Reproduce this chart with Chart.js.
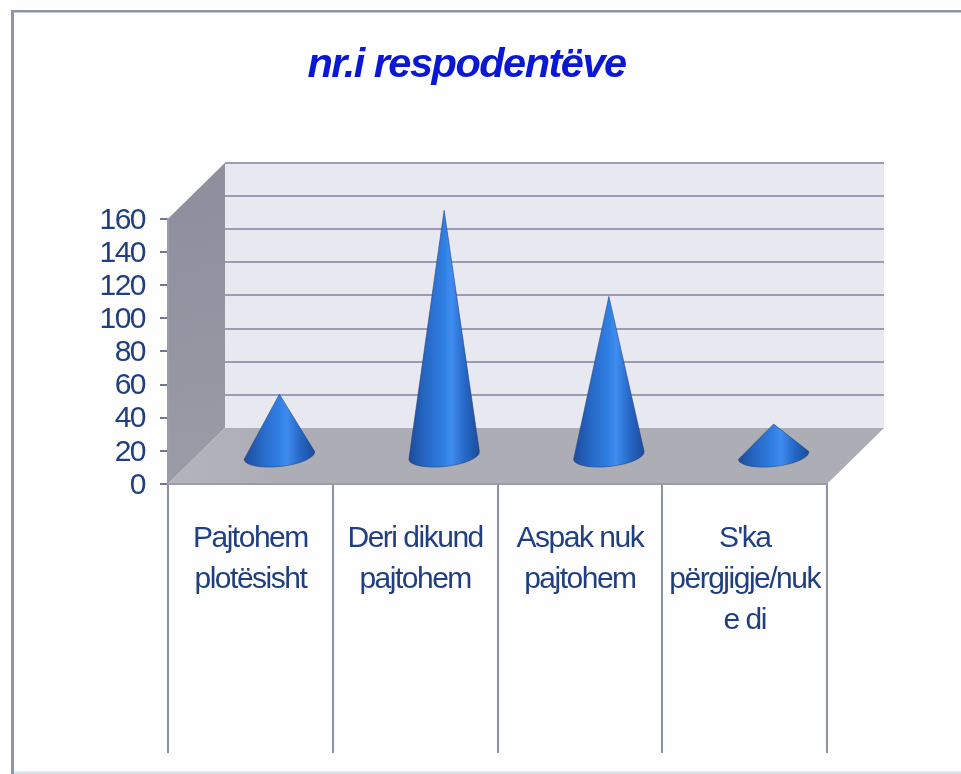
<!DOCTYPE html>
<html lang="sq">
<head>
<meta charset="utf-8">
<title>nr.i respodentëve</title>
<script src="https://cdn.jsdelivr.net/npm/chart.js@4/dist/chart.umd.js"></script>
<style>
html,body{margin:0;padding:0;background:#fff;overflow:hidden}
canvas{display:block}
</style>
</head>
<body>
<canvas id="c" width="961" height="774"></canvas>
<script>
const chartTitle = 'nr.i respodentëve';
const categories = [['Pajtohem','plotësisht'],['Deri dikund','pajtohem'],['Aspak nuk','pajtohem'],["S'ka",'përgjigje/nuk','e di']];
const respondents = [37, 148, 96, 19];
const yMin = 0, yMax = 160, yStep = 20;

const sans = '"Liberation Sans",Arial,sans-serif';
const depthX = 57, depthY = 56;

const scenePlugin = {
  id: 'scene',
  afterLayout(chart) {
    // the title sits over the whole plot including its depth, not only the front plane
    chart.titleBlock.left += 8;
    chart.titleBlock.right += 8;
  },
  beforeDraw(chart) {
    const {ctx, scales:{x, y}, width, height} = chart;
    const L = x.left, R = x.right, B = y.bottom, T = y.top;
    ctx.letterSpacing = '-1.5px';
    ctx.save();
    // page and frame
    ctx.fillStyle = '#fefefe'; ctx.fillRect(0,0,width,height);
    ctx.fillStyle = '#8c94ae'; ctx.fillRect(11,10,3,height-10); ctx.fillRect(11,10,width-11,2.5);
    ctx.fillStyle = '#d6e6f0'; ctx.fillRect(14,771.5,width-14,2.5);
    // back wall
    ctx.fillStyle = '#e7e8f0';
    ctx.fillRect(L+depthX,T-depthY,R-L,B-T);
    // back-wall gridlines from the value axis
    ctx.strokeStyle = '#9a9bb4'; ctx.lineWidth = 2;
    y.ticks.forEach(t => {
      if (t.value === yMin) return;
      const py = Math.round(y.getPixelForValue(t.value)-depthY);
      ctx.beginPath(); ctx.moveTo(L+depthX,py); ctx.lineTo(R+depthX,py); ctx.stroke();
    });
    // side wall
    const side = ctx.createLinearGradient(L,T,L+depthX,B);
    side.addColorStop(0,'#8e909e'); side.addColorStop(1,'#9b9ca6');
    ctx.fillStyle = side;
    ctx.beginPath(); ctx.moveTo(L,T); ctx.lineTo(L+depthX,T-depthY); ctx.lineTo(L+depthX,B-depthY); ctx.lineTo(L,B); ctx.closePath(); ctx.fill();
    // floor
    const floor = ctx.createLinearGradient(L,0,R+depthX,0);
    floor.addColorStop(0,'#b4b5bc'); floor.addColorStop(0.15,'#adaeb5'); floor.addColorStop(1,'#adaeb5');
    ctx.fillStyle = floor;
    ctx.beginPath(); ctx.moveTo(L,B); ctx.lineTo(R,B); ctx.lineTo(R+depthX,B-depthY); ctx.lineTo(L+depthX,B-depthY); ctx.closePath(); ctx.fill();
    ctx.restore();
  },
  beforeDatasetDraw(chart, args) {
    const {ctx, scales:{y}} = chart;
    const baseY = y.getPixelForValue(0);
    const rx = 35.5, ry = 11, tilt = -0.11;
    const shiftX = depthX/2 + 0.5, shiftY = 28.5;
    args.meta.data.forEach((bar) => {
      const cx = bar.x + shiftX, by = baseY - shiftY, tipY = bar.y - shiftY;
      const g = ctx.createLinearGradient(cx-rx,0,cx+rx,0);
      g.addColorStop(0,'#1b4b9c'); g.addColorStop(0.22,'#2566c2'); g.addColorStop(0.5,'#3080e4');
      g.addColorStop(0.6,'#3f8cf0'); g.addColorStop(0.8,'#2566c4'); g.addColorStop(1,'#1b4b9c');
      const rxp = cx + rx*Math.cos(tilt), ryp = by + rx*Math.sin(tilt);
      ctx.save();
      ctx.beginPath();
      ctx.moveTo(cx,tipY);
      ctx.lineTo(rxp,ryp);
      ctx.ellipse(cx,by,rx,ry,tilt,0,Math.PI);
      ctx.closePath();
      ctx.fillStyle = g; ctx.fill();
      ctx.strokeStyle = 'rgba(40,60,120,0.55)'; ctx.lineWidth = 1; ctx.stroke();
      ctx.restore();
    });
    return false;
  }
};

new Chart(document.getElementById('c'), {
  type: 'bar',
  data: {
    labels: categories,
    datasets: [{ label: chartTitle, data: respondents, backgroundColor: '#2b70d2' }]
  },
  options: {
    responsive: false,
    animation: false,
    layout: { padding: { left: 90, right: 134, top: 0, bottom: 21 } },
    plugins: {
      legend: { display: false },
      tooltip: { enabled: false },
      title: {
        display: true, text: chartTitle, color: '#0a18d6',
        font: { family: sans, size: 41.5, weight: 'bold', style: 'italic', lineHeight: 1.2 },
        padding: { top: 41, bottom: 128 }
      }
    },
    scales: {
      x: {
        grid: { drawOnChartArea: false, drawTicks: true, tickLength: 269, color: '#8a90a8', lineWidth: 2 },
        border: { display: true, color: '#9a9cae', width: 2 },
        ticks: {
          color: '#1f3f82', autoSkip: false, maxRotation: 0, minRotation: 0, padding: -235,
          font: { family: sans, size: 30, lineHeight: 1.37 }
        },
        afterFit(s) { s.height = 269; }
      },
      y: {
        min: yMin, max: yMax,
        grid: { drawOnChartArea: false, drawTicks: true, tickLength: 8, color: '#6f7692', lineWidth: 2 },
        border: { display: true, color: '#9a9cae', width: 2 },
        ticks: {
          stepSize: yStep, color: '#1f3f82', padding: 15, autoSkip: false, labelOffset: 1.5,
          font: { family: sans, size: 30 }
        },
        afterFit(s) { s.width = 78; }
      }
    }
  },
  plugins: [scenePlugin]
});
</script>
</body>
</html>
